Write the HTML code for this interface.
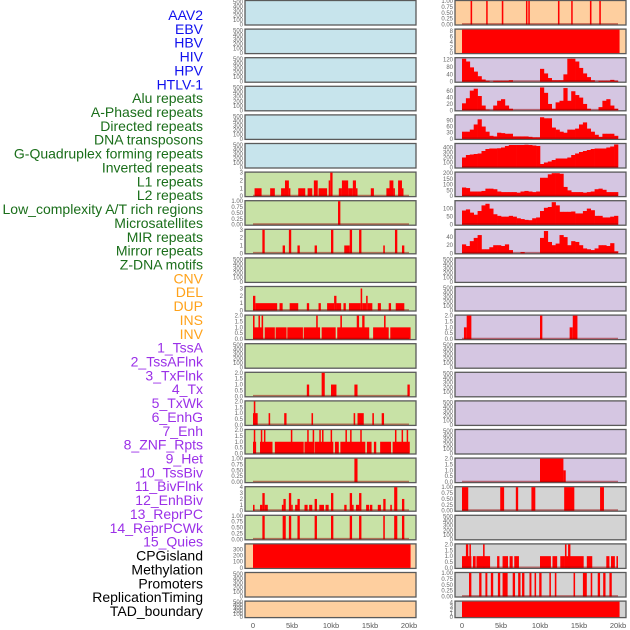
<!DOCTYPE html>
<html><head><meta charset="utf-8"><style>
body{margin:0;background:#fff;width:630px;height:630px;overflow:hidden;font-family:"Liberation Sans",sans-serif}
svg{display:block}
</style></head><body>
<svg id="c" width="630" height="630" xmlns="http://www.w3.org/2000/svg"></svg>
<script>
const labels=["AAV2","EBV","HBV","HIV","HPV","HTLV-1","Alu repeats","A-Phased repeats","Directed repeats","DNA transposons","G-Quadruplex forming repeats","Inverted repeats","L1 repeats","L2 repeats","Low_complexity A/T rich regions","Microsatellites","MIR repeats","Mirror repeats","Z-DNA motifs","CNV","DEL","DUP","INS","INV","1_TssA","2_TssAFlnk","3_TxFlnk","4_Tx","5_TxWk","6_EnhG","7_Enh","8_ZNF_Rpts","9_Het","10_TssBiv","11_BivFlnk","12_EnhBiv","13_ReprPC","14_ReprPCWk","15_Quies","CPGisland","Methylation","Promoters","ReplicationTiming","TAD_boundary"];
const labelGroups=[6,13,5,15,5];
const xTicks=[0,5000,10000,15000,20000];
const xTickLabels=["0","5kb","10kb","15kb","20kb"];
const ticksEmpty=["0","100","200","300","400","500"];
const ticks1=["0.00","0.25","0.50","0.75","1.00"];
const ticks2=["0.0","0.5","1.0","1.5","2.0"];
// segments [startKb,endKb,value]
const aluSeg=[[0.2,1.1,1],[2.2,2.8,1],[3.6,4.1,1],[4.1,4.6,2],[4.6,4.7,1],[5.8,6.7,1],[7.0,7.6,1],[7.8,8.3,2],[8.4,9.5,1],[9.7,9.9,2],[9.9,10.2,3],[11.0,11.4,1],[11.4,12.2,2],[12.2,12.8,1],[12.8,13.2,2],[13.2,13.4,1],[15.1,15.5,1],[17.1,17.5,1],[17.5,18.0,2],[18.0,18.1,1],[18.6,19.1,2],[19.1,19.2,1]];
const aPhasedSeg=[[10.9,11.2,1]];
const directedSeg=[[1.2,1.5,3],[3.8,4.1,1],[4.6,4.9,3],[5.7,6.0,1],[7.9,8.2,1],[10.0,10.3,3],[11.7,12.4,1],[12.4,12.7,3],[13.6,13.9,3],[16.7,16.9,1],[18.2,18.5,3],[19.1,19.4,1]];
const gquadSeg=[[0,0.3,2],[0.3,3.1,1],[3.4,3.8,1],[4.7,5.8,1],[6.9,7.2,1],[8.4,8.7,1],[9.5,10.4,1],[10.4,10.7,2],[10.7,11.3,1],[11.6,11.9,1],[12.3,13.8,1],[13.8,14.0,3],[14.0,14.5,1],[14.5,14.7,2],[14.7,15.3,1],[16.0,16.4,1],[17.4,17.7,1],[18.3,19.4,1]];
const invertedSeg=[[0,1.3,1],[1.5,2.8,1],[2.9,4.3,1],[4.4,6.4,1],[6.5,8.6,1],[8.8,10.6,1],[10.8,14.9,1],[15.4,17.4,1],[17.6,20.2,1],[0,0.2,2],[0.7,0.8,2],[1.1,1.3,2],[8.1,8.3,2],[11.2,11.4,2],[13.3,13.6,2],[14.0,14.3,2],[16.8,17.0,2]];
const l2Seg=[[6.9,7.2,1],[8.8,9.2,2],[10.0,10.7,1],[13.0,13.4,1],[19.8,20.1,1]];
const lowCxSeg=[[0.0,0.6,1],[0.1,0.3,2],[2.0,2.2,1],[4.0,4.3,1],[7.5,7.7,1],[12.9,13.1,1],[13.4,14.2,1],[15.3,15.5,1],[16.5,16.8,1]];
const microSeg=[[0.0,0.4,1],[0.9,2.5,1],[2.8,6.5,1],[6.6,7.7,1],[7.9,10.3,1],[10.5,11.0,1],[11.2,14.4,1],[14.6,15.2,1],[15.5,15.8,1],[16.3,17.7,1],[17.9,20.1,1],[0.1,0.25,2],[1.0,1.15,2],[1.4,1.55,2],[4.85,5.0,2],[6.95,7.1,2],[7.65,7.8,2],[8.5,8.65,2],[8.85,9.0,2],[9.95,10.1,2],[11.85,12.0,2],[12.45,12.6,2],[13.75,13.9,2],[18.2,18.35,2],[19.05,19.2,2],[19.7,19.85,2]];
const mirSeg=[[13.0,13.4,1]];
const mirrorSeg=[[0,0.2,1],[0.9,1.2,1],[1.2,1.5,3],[1.5,1.9,1],[3.7,3.9,1],[3.9,4.2,2],[4.6,4.9,3],[4.9,5.0,1],[5.4,5.7,1],[5.7,6.0,2],[6.6,7.0,1],[7.2,7.6,1],[7.9,8.2,2],[8.5,9.1,1],[9.3,9.7,1],[10.0,10.3,3],[11.7,12.0,1],[12.4,12.7,3],[12.7,12.9,1],[13.2,13.6,1],[13.6,13.9,3],[14.5,14.9,1],[15.0,15.3,1],[16.0,16.4,1],[16.7,17.0,2],[17.6,17.8,1],[18.1,18.5,4],[19.1,19.4,2]];
const zdnaSeg=[[1.2,1.5,1],[3.8,4.2,1],[4.6,4.9,1],[5.7,6.0,1],[7.9,8.2,1],[10.0,10.3,1],[12.4,12.7,1],[13.6,13.9,1],[16.7,16.9,1],[18.1,18.5,1],[19.1,19.4,1]];
const cnvSeg=[[0,20.2,380]];
const insSeg=[[1.1,1.3,1],[3.1,3.25,1],[5.1,5.3,1],[8.2,8.35,1],[8.5,8.65,1],[12.3,12.5,1],[14.0,14.15,1],[16.4,16.6,1],[17.6,17.8,1]];
const invSeg=[[0,20.2,8.6]];
const tssBivSeg=[[0.25,0.6,1],[0.6,1.2,2],[10.0,10.3,2],[13.8,14.2,1],[14.2,14.8,2]];
const quiesSeg=[[10.0,13.0,2],[13.0,13.3,1]];
const cpgSeg=[[0,0.8,1],[4.9,5.4,1],[6.9,7.2,1],[8.9,9.4,1],[13.1,14.4,1],[17.7,18.2,1]];
const promSeg=[[0,1.2,1],[1.4,1.75,1],[1.85,3.6,1],[4.5,4.8,1],[5.2,5.9,1],[6.1,6.5,1],[6.7,7.3,1],[10.0,11.4,1],[11.6,12.2,1],[12.6,13.2,1],[13.3,15.6,1],[16.0,16.7,1],[18.5,18.9,1],[19.1,19.6,1],[19.8,20.0,1],[0.5,0.8,2],[0.95,1.1,2],[2.7,2.9,2],[13.2,13.4,2],[13.6,13.9,2]];
const repTimSeg=[[0.9,1.2,1],[2.2,2.5,1],[3.0,3.25,1],[3.7,4.0,1],[4.6,4.9,1],[5.2,5.85,1],[6.5,6.8,1],[7.2,7.5,1],[7.7,8.0,1],[8.65,8.9,1],[9.3,9.5,1],[9.9,10.2,1],[11.2,11.4,1],[11.9,12.1,1],[14.3,14.5,1],[15.5,16.0,1],[16.5,16.7,1],[17.4,17.7,1],[18.1,18.4,1],[18.9,19.2,1]];
const tadSeg=[[0,20.2,4.3]];
// 0.5kb bins
const tssABins=[125,110,78,55,30,12,5,0,5,5,5,5,8,0,0,0,0,0,0,0,70,45,20,8,8,8,40,125,125,110,75,45,25,8,0,5,5,5,10,5];
const tssAFlnkBins=[22,38,62,68,45,15,2,0,15,30,35,15,5,0,0,0,0,0,0,0,72,55,20,5,25,30,70,30,60,48,40,20,5,0,0,10,30,35,15,5];
const txFlnkBins=[35,35,45,70,95,60,35,15,12,30,28,25,25,12,12,12,12,10,8,8,105,100,100,55,45,35,30,45,45,50,70,80,50,35,20,10,25,25,25,15];
const txBins=[200,250,260,270,280,330,370,380,380,385,400,430,450,450,450,450,455,450,440,430,70,100,120,150,180,180,180,200,250,280,310,330,350,370,380,380,380,400,420,460];
const txWkBins=[75,70,40,40,40,45,65,65,60,40,35,35,35,35,30,40,45,40,35,40,160,160,190,200,200,195,80,50,35,35,35,30,35,40,60,65,55,35,35,35];
const enhGBins=[88,95,75,62,85,120,130,100,65,55,50,50,55,50,40,35,30,28,40,45,85,105,110,140,120,80,80,80,82,70,70,85,100,90,55,55,45,45,50,55];
const enhBins=[22,18,30,38,45,10,10,15,20,20,18,22,8,0,0,3,0,0,0,0,38,55,28,20,24,45,40,20,30,28,20,12,10,8,12,20,20,18,25,5];

const BG={blue:"#c7e4ec",green:"#c8e2a6",peach:"#fecf9f",lav:"#d5c6e2",gray:"#d3d3d3"};
// panels in column-major order (index = label index)
const panels=[
{bg:"blue"},{bg:"blue"},{bg:"blue"},{bg:"blue"},{bg:"blue"},{bg:"blue"},
{bg:"green",seg:aluSeg,max:3,t:["0","1","2","3"],tv:[0,1,2,3]},
{bg:"green",seg:aPhasedSeg,max:1,t:ticks1,tv:[0,.25,.5,.75,1]},
{bg:"green",seg:directedSeg,max:3,t:["0","1","2","3"],tv:[0,1,2,3]},
{bg:"green"},
{bg:"green",seg:gquadSeg,max:3.2,t:["0","1","2","3"],tv:[0,1,2,3]},
{bg:"green",seg:invertedSeg,max:2,t:ticks2,tv:[0,.5,1,1.5,2]},
{bg:"green"},
{bg:"green",seg:l2Seg,max:2,t:ticks2,tv:[0,.5,1,1.5,2]},
{bg:"green",seg:lowCxSeg,max:2,t:ticks2,tv:[0,.5,1,1.5,2]},
{bg:"green",seg:microSeg,max:2,t:ticks2,tv:[0,.5,1,1.5,2]},
{bg:"green",seg:mirSeg,max:1,t:ticks1,tv:[0,.25,.5,.75,1]},
{bg:"green",seg:mirrorSeg,max:4,t:["0","1","2","3","4"],tv:[0,1,2,3,4]},
{bg:"green",seg:zdnaSeg,max:1,t:ticks1,tv:[0,.25,.5,.75,1]},
{bg:"peach",seg:cnvSeg,max:380,t:["0","100","200","300"],tv:[0,100,200,300],nobase:1},
{bg:"peach"},{bg:"peach"},
{bg:"peach",seg:insSeg,max:1,t:ticks1,tv:[0,.25,.5,.75,1]},
{bg:"peach",seg:invSeg,max:8.6,t:["0","2","4","6","8"],tv:[0,2,4,6,8],nobase:1},
{bg:"lav",bins:tssABins,max:128,t:["0","40","80","120"],tv:[0,40,80,120]},
{bg:"lav",bins:tssAFlnkBins,max:74,t:["0","20","40","60"],tv:[0,20,40,60]},
{bg:"lav",bins:txFlnkBins,max:114,t:["0","30","60","90"],tv:[0,30,60,90]},
{bg:"lav",bins:txBins,max:470,t:["0","100","200","300","400"],tv:[0,100,200,300,400]},
{bg:"lav",bins:txWkBins,max:205,t:["0","50","100","150","200"],tv:[0,50,100,150,200]},
{bg:"lav",bins:enhGBins,max:146,t:["0","50","100"],tv:[0,50,100]},
{bg:"lav",bins:enhBins,max:58,t:["0","20","40"],tv:[0,20,40]},
{bg:"lav"},{bg:"lav"},
{bg:"lav",seg:tssBivSeg,max:2,t:ticks2,tv:[0,.5,1,1.5,2]},
{bg:"lav"},{bg:"lav"},{bg:"lav"},{bg:"lav"},
{bg:"lav",seg:quiesSeg,max:2,t:ticks2,tv:[0,.5,1,1.5,2]},
{bg:"gray",seg:cpgSeg,max:1,t:ticks1,tv:[0,.25,.5,.75,1]},
{bg:"gray"},
{bg:"gray",seg:promSeg,max:2,t:ticks2,tv:[0,.5,1,1.5,2]},
{bg:"gray",seg:repTimSeg,max:1,t:ticks1,tv:[0,.25,.5,.75,1]},
{bg:"gray",seg:tadSeg,max:4.3,t:["0","1","2","3","4"],tv:[0,1,2,3,4],nobase:1}
];
const svg=document.getElementById('c');
const NS="http://www.w3.org/2000/svg";
function mk(tag,attrs,parent){const e=document.createElementNS(NS,tag);for(const k in attrs)e.setAttribute(k,attrs[k]);(parent||svg).appendChild(e);return e;}
const colors=["#1010ee","#1a6e1a","#ffa21a","#9b30e8","#000"];
let gi=0,gc=0;
labels.forEach((l,i)=>{
  while(gc>=labelGroups[gi]){gi++;gc=0;} gc++;
  const t=mk('text',{x:203,y:15+i*13.86+5,'text-anchor':'end','font-size':14,fill:colors[gi]});
  
  
  t.textContent=l;
});
function xs(col,kb){return (col?462:253)+kb*7.8;}
panels.forEach((p,i)=>{
  const col=i<22?0:1,row=i%22;
  const bx=col?455:245, top=0.5+row*28.6, h=row==21?16.5:24.5;
  const g=mk('g',{});
  
  
  mk('rect',{x:bx,y:top,width:171,height:h,fill:BG[p.bg],stroke:'#5a5a5a','stroke-width':1.3},g);
  const bot=top+h-0.5;
  const ys=v=>bot-(v/(p.max||520))*(h-1);
  const tl=p.t||ticksEmpty, tv=p.tv||[0,100,200,300,400,500];
  tl.forEach((s,k)=>{const t=mk('text',{x:bx-2,y:ys(tv[k])+2,'text-anchor':'end','font-size':6,fill:'#666'},g);t.textContent=s;});
  if(p.seg){
    p.seg.forEach(s=>{
      const x0=xs(col,s[0]),w=Math.max(1.5,xs(col,s[1])-x0);
      const r=mk('rect',{x:x0,y:ys(Math.min(s[2],p.max)),width:w,height:bot-ys(Math.min(s[2],p.max)),fill:'#ff0000'},g);
      
      
    });
  }
  if(p.bins){
    p.bins.forEach((v,k)=>{
      const x0=xs(col,k*0.5),w=xs(col,k*0.5+0.5)-x0+0.3;
      const r=mk('rect',{x:x0,y:ys(v),width:w,height:bot-ys(v),fill:'#ff0000'},g);
      
      
    });
  }
  if((p.seg||p.bins)&&!p.nobase){
    mk('line',{x1:xs(col,0),x2:xs(col,20),y1:bot-0.7,y2:bot-0.7,stroke:'rgba(150,0,0,0.5)','stroke-width':1.4},g);
  }
});
[0,1].forEach(col=>{
  xTicks.forEach((v,k)=>{
    const t=mk('text',{x:xs(col,v/1000),y:628,'text-anchor':'middle','font-size':7.5,fill:'#555'});
    
    
    t.textContent=xTickLabels[k];
  });
});
</script>
</body></html>
